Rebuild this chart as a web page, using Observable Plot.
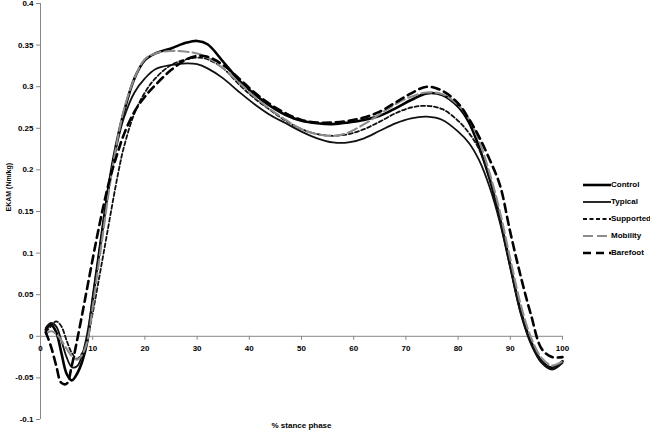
<!DOCTYPE html>
<html>
<head>
<meta charset="utf-8">
<script src="https://cdn.jsdelivr.net/npm/d3@7"></script>
<script src="https://cdn.jsdelivr.net/npm/@observablehq/plot@0.6"></script>
<style>
  html, body { margin: 0; padding: 0; background: #fff; }
  #wrap { position: relative; width: 650px; height: 432px; font-family: "Liberation Sans", Arial, sans-serif; }
  #legend { position: absolute; left: 583px; top: 176px; font: bold 8px "Liberation Sans", Arial, sans-serif; color: #000; }
  .row { display: flex; align-items: center; height: 17px; }
  .row svg { display: block; }
</style>
</head>
<body>
<div id="wrap"><div id="chart"></div><div id="legend"></div></div>
<script>
// % stance phase
const pct = [1,2,3,4,5,6,7,8,9,10,11,12,13,14,15,16,18,20,22,25,28,30,32,35,38,41,44,47,50,53,56,59,62,65,68,71,74,77,80,82,84,86,88,90,92,94,96,98,100];

const control   = [0.008,0.014,0.005,-0.02,-0.045,-0.053,-0.045,-0.03,-0.005,0.045,0.09,0.135,0.178,0.215,0.245,0.27,0.31,0.332,0.34,0.346,0.353,0.355,0.351,0.33,0.308,0.291,0.277,0.266,0.259,0.256,0.255,0.257,0.26,0.265,0.274,0.284,0.292,0.29,0.276,0.258,0.228,0.19,0.142,0.085,0.03,-0.007,-0.03,-0.038,-0.03];
const typical   = [0.01,0.016,0.012,-0.005,-0.025,-0.037,-0.036,-0.022,0.005,0.045,0.09,0.135,0.175,0.21,0.24,0.263,0.293,0.31,0.321,0.326,0.328,0.327,0.322,0.31,0.294,0.279,0.266,0.256,0.246,0.238,0.233,0.233,0.238,0.247,0.256,0.262,0.264,0.26,0.246,0.233,0.212,0.18,0.137,0.082,0.027,-0.01,-0.032,-0.04,-0.032];
const supported = [0.005,0.012,0.018,0.012,-0.005,-0.02,-0.027,-0.02,-0.002,0.028,0.062,0.097,0.132,0.167,0.2,0.228,0.268,0.293,0.31,0.326,0.333,0.335,0.333,0.322,0.303,0.286,0.272,0.259,0.249,0.243,0.241,0.243,0.249,0.258,0.268,0.275,0.277,0.273,0.259,0.245,0.225,0.19,0.142,0.085,0.03,-0.008,-0.03,-0.038,-0.03];
const mobility  = [0.003,0.006,0.003,-0.005,-0.015,-0.024,-0.028,-0.022,-0.005,0.035,0.08,0.125,0.17,0.21,0.245,0.273,0.31,0.333,0.34,0.343,0.342,0.34,0.335,0.322,0.305,0.288,0.273,0.26,0.249,0.243,0.241,0.245,0.255,0.267,0.279,0.288,0.293,0.291,0.278,0.262,0.235,0.197,0.15,0.093,0.038,-0.002,-0.026,-0.035,-0.03];
const barefoot  = [0.005,-0.012,-0.035,-0.056,-0.057,-0.035,-0.005,0.027,0.06,0.093,0.125,0.155,0.182,0.205,0.225,0.243,0.27,0.288,0.302,0.32,0.333,0.337,0.336,0.326,0.31,0.293,0.279,0.268,0.26,0.257,0.257,0.259,0.263,0.27,0.281,0.292,0.3,0.295,0.28,0.262,0.24,0.213,0.182,0.125,0.072,0.025,-0.015,-0.025,-0.025];

const seriesNames = ["Control", "Typical", "Supported", "Mobility", "Barefoot"];
const seriesValues = [control, typical, supported, mobility, barefoot];
const xTicks = [0,10,20,30,40,50,60,70,80,90,100];
const yTicks = [-0.1,-0.05,0,0.05,0.1,0.15,0.2,0.25,0.3,0.35,0.4];
const xTitle = "% stance phase";
const yTitle = "EKAM (Nm/kg)";

const styles = {
  Control:   {stroke: "#000", strokeWidth: 2.6, dash: null},
  Typical:   {stroke: "#111", strokeWidth: 1.8, dash: null},
  Supported: {stroke: "#111", strokeWidth: 1.8, dash: "4,2.5"},
  Mobility:  {stroke: "#8c8c8c", strokeWidth: 2.1, dash: "10,4"},
  Barefoot:  {stroke: "#000", strokeWidth: 2.6, dash: "8,5"}
};

const rows = seriesNames.flatMap((s, k) => pct.map((x, i) => ({x, y: seriesValues[k][i], s})));

const axisColor = "#888";
const font = "Liberation Sans, Arial, sans-serif";

const lineMarks = seriesNames.map(s => Plot.line(rows.filter(d => d.s === s), {
  x: "x", y: "y", curve: "catmull-rom",
  stroke: styles[s].stroke, strokeWidth: styles[s].strokeWidth,
  strokeDasharray: styles[s].dash, strokeLinejoin: "round"
}));

const chart = Plot.plot({
  width: 650, height: 432,
  marginLeft: 40, marginRight: 88, marginTop: 3, marginBottom: 13,
  style: {fontFamily: font, fontSize: "8px", fontWeight: "bold", background: "#fff", color: "#000"},
  x: {domain: [d3.min(xTicks), d3.max(xTicks)], axis: null},
  y: {domain: [d3.min(yTicks), d3.max(yTicks)], axis: null},
  marks: [
    Plot.ruleX([0], {y1: d3.min(yTicks), y2: d3.max(yTicks), stroke: axisColor}),
    Plot.ruleY([0], {x1: d3.min(xTicks), x2: d3.max(xTicks), stroke: axisColor}),
    Plot.axisY({ticks: yTicks, tickSize: 4, tickPadding: 3, tickFormat: d => String(d), label: null, stroke: axisColor, fill: "#000"}),
    Plot.ruleX(xTicks, {x: d => d, y1: 0, y2: 0, insetBottom: -4, stroke: axisColor}),
    Plot.text(xTicks, {x: d => d, y: 0, dy: 12, text: d => String(d), fill: "#000"}),
    ...lineMarks,
    Plot.text([yTitle], {frameAnchor: "left", rotate: -90, dx: -32, fontSize: 7, fill: "#000"}),
    Plot.text([xTitle], {frameAnchor: "bottom", dy: 8, fill: "#000"})
  ]
});
document.getElementById("chart").appendChild(chart);

// legend
const legend = document.getElementById("legend");
seriesNames.forEach(s => {
  const row = document.createElement("div");
  row.className = "row";
  const st = styles[s];
  row.innerHTML = `<svg width="28" height="6"><line x1="0" y1="3" x2="28" y2="3" stroke="${st.stroke}" stroke-width="${st.strokeWidth}" ${st.dash ? `stroke-dasharray="${st.dash}"` : ""}/></svg><span>${s}</span>`;
  legend.appendChild(row);
});
</script>
</body>
</html>
